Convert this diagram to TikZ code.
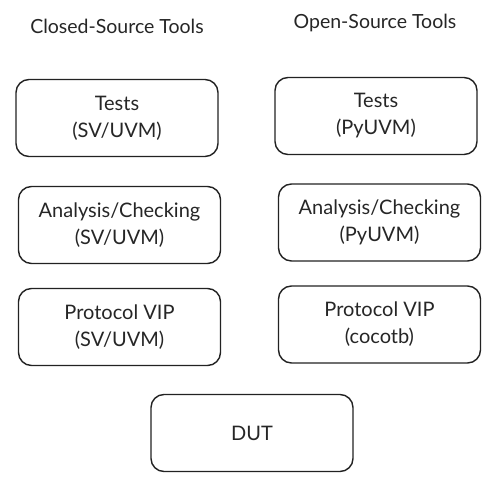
\documentclass[tikz,border=0pt]{standalone}
\usepackage{fontspec}
\setmainfont{Lato}
\definecolor{boxline}{HTML}{222222}
\definecolor{boxtext}{HTML}{262626}
\begin{document}
\begin{tikzpicture}[x=1pt,y=-1pt,
  toolbox/.style={draw=boxline, line width=1.4pt, rounded corners=13pt, minimum width=202pt, minimum height=77pt, align=center, text=boxtext, font=\fontsize{20}{27}\selectfont},
  coltitle/.style={text=boxtext, font=\fontsize{19.5}{22}\selectfont}]
\useasboundingbox (0,0) rectangle (491,481);
\node[coltitle] (closed) at (117,26) {Closed-Source Tools};
\node[coltitle] (open) at (375,23) {Open-Source Tools};
\node[toolbox] (ctests) at (117,118) {Tests\\(SV/UVM)};
\node[toolbox] (otests) at (376,116) {Tests\\(PyUVM)};
\node[toolbox] (ccheck) at (119.5,225) {Analysis/Checking\\(SV/UVM)};
\node[toolbox] (ocheck) at (379.5,222.5) {Analysis/Checking\\(PyUVM)};
\node[toolbox] (cvip) at (119.5,327) {Protocol VIP\\(SV/UVM)};
\node[toolbox] (ovip) at (379.5,324.5) {Protocol VIP\\(cocotb)};
\node[toolbox] (dut) at (252,433) {DUT};
\end{tikzpicture}
\end{document}
